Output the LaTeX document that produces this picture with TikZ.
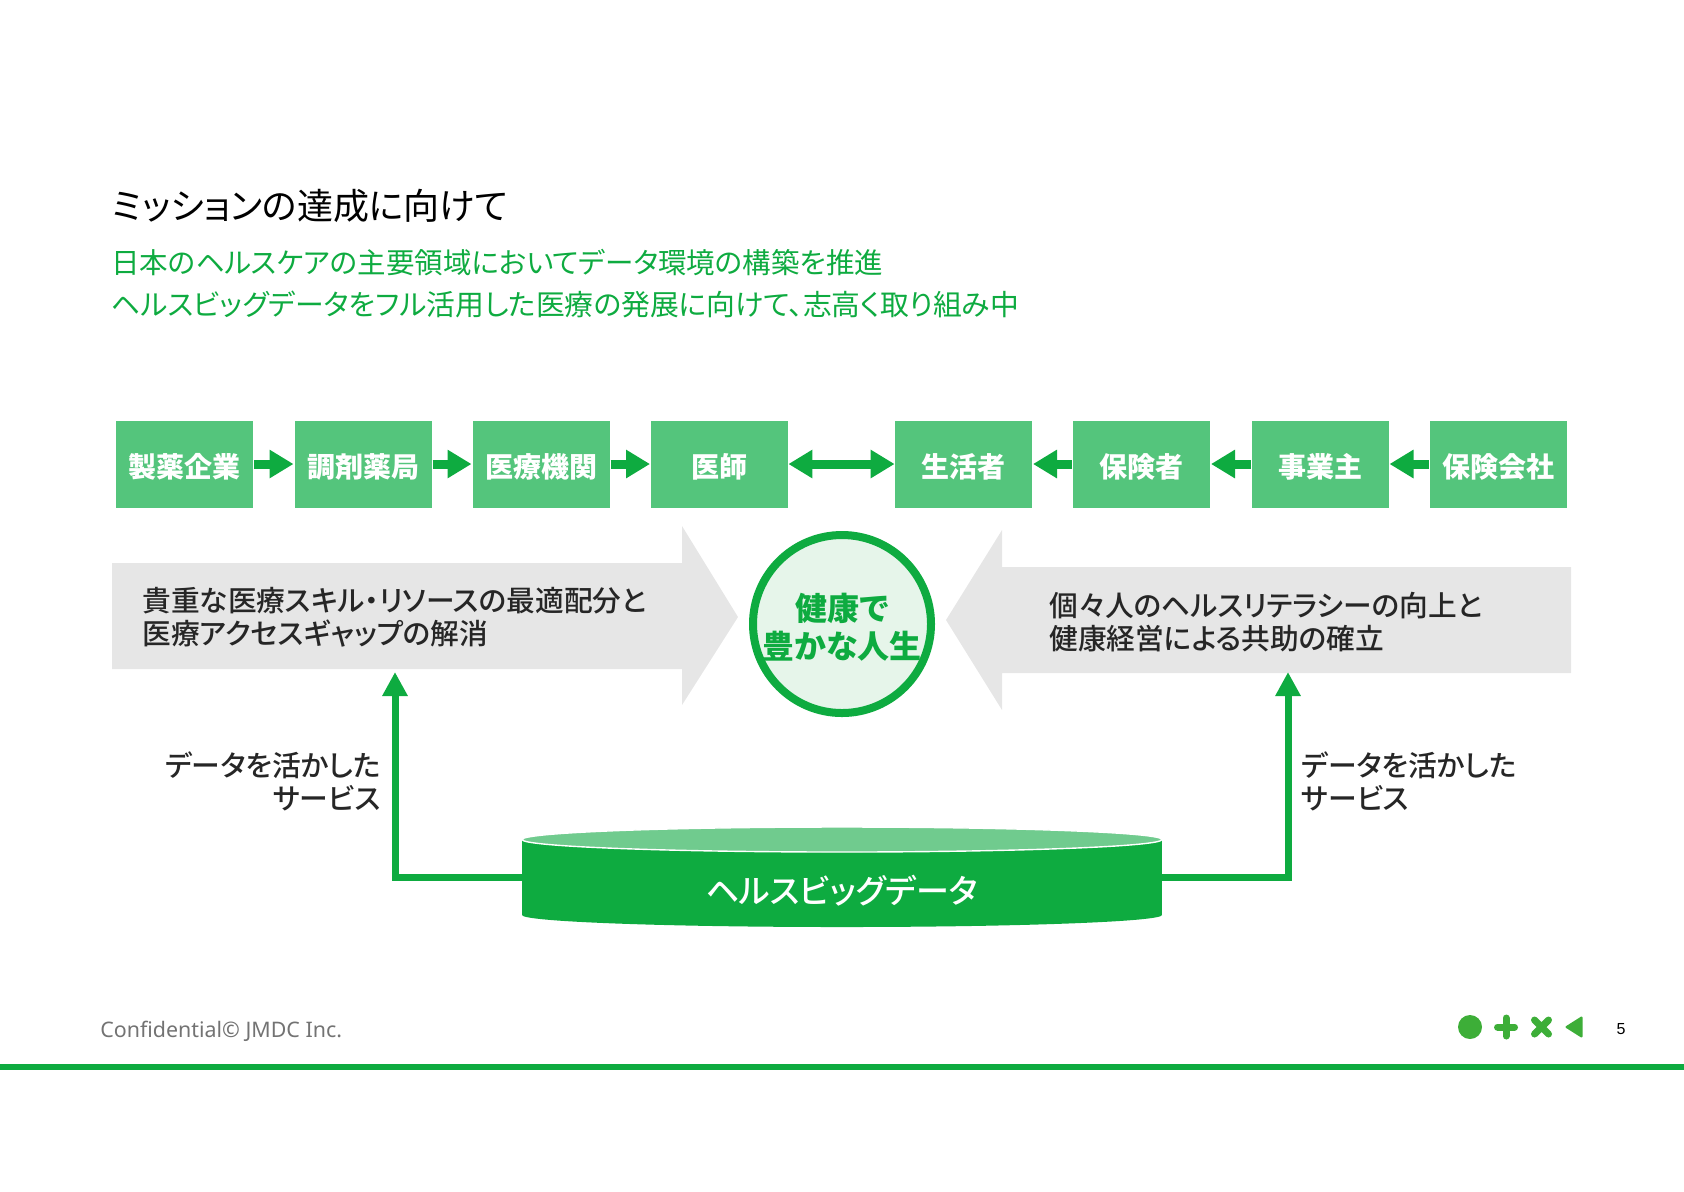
\documentclass[tikz,border=0pt]{standalone}
\usepackage{fontspec}
\setmainfont[Ligatures=NoCommon]{Noto Sans}
\newfontfamily\pagefont{Liberation Sans}
\newfontfamily\cjk[RawFeature=+palt]{Noto Sans CJK JP}
\newfontfamily\cjkheavy[RawFeature=+palt]{Noto Sans CJK JP Medium}
\usetikzlibrary{arrows.meta,calc,positioning}
\definecolor{dataGreen}{HTML}{0EAB40}
\definecolor{boxGreen}{HTML}{54C57C}
\definecolor{topGreen}{HTML}{70CB8E}
\definecolor{paleGreen}{HTML}{E6F5EA}
\definecolor{iconGreen}{HTML}{3DAE38}
\definecolor{bandGray}{HTML}{E6E6E6}
\definecolor{inkGray}{HTML}{262626}
\tikzset{
  rolebox/.style={fill=boxGreen,text=white,minimum width=68.5pt,minimum height=43.5pt,inner sep=0pt,text height=15pt,text depth=1.5pt,font=\cjk\bfseries\fontsize{14}{14}\selectfont},
  roleflow/.style={draw=dataGreen,line width=4.5pt,-{Triangle[length=12pt,width=13.5pt]},shorten >=0.3pt,shorten <=0.3pt},
  rolelink/.style={draw=dataGreen,line width=4.5pt,{Triangle[length=12pt,width=13.5pt]}-{Triangle[length=12pt,width=13.5pt]}},
  serviceflow/.style={draw=dataGreen,line width=3.5pt,-{Triangle[length=12pt,width=12pt]}},
  bandtext/.style={inner sep=0pt,align=left,anchor=west,text=inkGray,font=\cjkheavy\fontsize{14.35}{16.6}\selectfont},
  servicetext/.style={inner sep=0pt,text=inkGray,font=\cjkheavy\fontsize{14.4}{16.6}\selectfont}
}
\begin{document}
\begin{tikzpicture}[x=0.5pt,y=-0.5pt]
  \useasboundingbox (0,0) rectangle (1684,1191);
  % Heading
  \node[inner sep=0pt,anchor=west,font=\cjk\fontsize{18}{18}\selectfont] (title) at (112,206) {ミッションの達成に向けて};
  \node[inner sep=0pt,anchor=north west,align=left,text=dataGreen,font=\cjk\fontsize{14.4}{21}\selectfont] (lead) at (111,249)
    {\fontsize{14.25}{21}\selectfont 日本のヘルスケアの主要領域においてデータ環境の構築を推進\\ヘルスビッグデータをフル活用した医療の発展に向けて、志高く取り組み中};
  % Role boxes
  \node[rolebox] (pharma) at (184.5,464) {製薬企業};
  \node[rolebox] (dispense) at (363,464) {調剤薬局};
  \node[rolebox] (hospital) at (541,464) {医療機関};
  \node[rolebox] (doctor) at (719.5,464) {医師};
  \node[rolebox] (consumer) at (963.5,464) {生活者};
  \node[rolebox] (insured) at (1141.5,464) {保険者};
  \node[rolebox] (employer) at (1320,464) {事業主};
  \node[rolebox] (insurer) at (1498.5,464) {保険会社};
  \draw[roleflow] (pharma) -- (dispense);
  \draw[roleflow] (dispense) -- (hospital);
  \draw[roleflow] (hospital) -- (doctor);
  \draw[rolelink] (doctor) -- (consumer);
  \draw[roleflow] (insured) -- (consumer);
  \draw[roleflow] (employer) -- (insured);
  \draw[roleflow] (insurer) -- (employer);
  % Grey bands
  \fill[bandGray] (112,563) -- (682,563) -- (682,526) -- (738,617) -- (682,705) -- (682,669) -- (112,669) -- cycle;
  \fill[bandGray] (1571,567) -- (1002,567) -- (1002,530) -- (946,620) -- (1002,710) -- (1002,673) -- (1571,673) -- cycle;
  \node[bandtext] (lefttext) at (142,617) {貴重な医療スキル・リソースの最適配分と\\医療アクセスギャップの解消};
  \node[bandtext] (righttext) at (1049,622) {個々人のヘルスリテラシーの向上と\\健康経営による共助の確立};
  % Centre circle
  \node[circle,draw=dataGreen,line width=4pt,fill=paleGreen,minimum size=89pt,inner sep=0pt] (life) at (842,624) {};
  \node[inner sep=0pt,align=center,text=dataGreen,font=\cjk\bfseries\fontsize{16}{19}\selectfont] (lifetext) at (842,627) {健康で\\豊かな人生};
  % Data cylinder
  \fill[dataGreen] (522,915) arc[start angle=180,end angle=0,x radius=320,y radius=12] -- cycle;
  \node[fill=dataGreen,minimum width=320pt,minimum height=37.5pt,inner sep=0pt] (bigdata) at (842,877.5) {};
  \fill[topGreen,draw=white,line width=0.7pt] (842,839.5) ellipse [x radius=320,y radius=12.5];
  \node[inner sep=0pt,text=white,font=\cjkheavy\fontsize{16.5}{17}\selectfont] (bigdatatext) at (842,891) {ヘルスビッグデータ};
  % Services
  \coordinate (leftturn) at (395,877.5);
  \coordinate (lefttip) at (395,672);
  \coordinate (rightturn) at (1288,877.5);
  \coordinate (righttip) at (1288,672);
  \draw[serviceflow] (bigdata.west) -- (leftturn) -- (lefttip);
  \draw[serviceflow] (bigdata.east) -- (rightturn) -- (righttip);
  \node[servicetext,align=right,anchor=east] (leftservice) at (381,781) {データを活かした\\サービス};
  \node[servicetext,align=left,anchor=west] (rightservice) at (1301,781) {データを活かした\\サービス};
  % Footer
  \node[inner sep=0pt,anchor=west,text=black!55,font=\fontsize{10.7}{11}\selectfont] (confidential) at (100,1031) {Confidential© JMDC Inc.};
  \fill[iconGreen] (1470,1027) circle (12);
  \draw[iconGreen,line width=3.5pt,line cap=round] (1497.5,1027) -- (1514.5,1027) (1506,1018) -- (1506,1036);
  \draw[iconGreen,line width=3.5pt,line cap=round] (1534.5,1020) -- (1548.5,1034) (1548.5,1020) -- (1534.5,1034);
  \filldraw[iconGreen,line width=1pt,line join=round] (1566.5,1027) -- (1581.5,1017.5) -- (1581.5,1036.5) -- cycle;
  \node[inner sep=0pt,font=\pagefont\fontsize{8}{8}\selectfont] (page) at (1621,1029) {5};
  \fill[dataGreen] (0,1064) rectangle (1684,1070);
\end{tikzpicture}
\end{document}
